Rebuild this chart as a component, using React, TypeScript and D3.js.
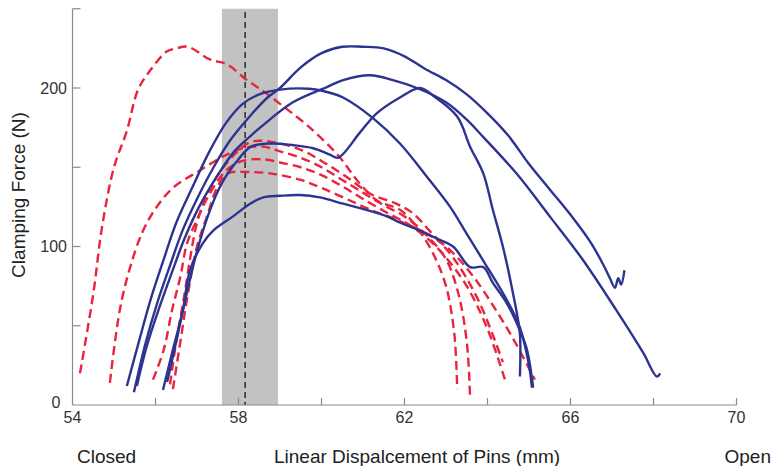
import React, { useEffect, useRef } from 'react';
import * as d3 from 'd3';

type Pt = [number, number];

// axis ticks
const xTicks = [54, 56, 58, 60, 62, 64, 66, 68, 70];
const xTickLabels = ['54', '', '58', '', '62', '', '66', '', '70'];
const yTicks = [0, 50, 100, 150, 200, 250];
const yTickLabels = ['0', '', '100', '', '200', ''];

// shaded zone and marker line (mm)
const bandRange: Pt = [57.6, 58.95];
const markerX = 58.16;

// red dashed curves (mm, N)
const red1: Pt[] = [
  [54.18, 20], [54.5, 70], [54.71, 112], [55.0, 150], [55.31, 173], [55.58, 199], [55.87, 211],
  [56.27, 223], [56.5, 225], [56.78, 226], [57.31, 218], [57.72, 215], [58.2, 205], [58.6, 198],
  [59.0, 190], [59.72, 175], [60.45, 156], [60.85, 142], [61.34, 129], [61.9, 123], [62.3, 112],
  [62.7, 95], [63.0, 75], [63.2, 45], [63.27, 10],
];
const red2: Pt[] = [
  [54.9, 14], [55.14, 60], [55.39, 87], [55.7, 110], [56.03, 125], [56.42, 137], [57.07, 148],
  [57.72, 158], [58.11, 162], [58.6, 163], [59.0, 160], [59.5, 156], [60.0, 150], [60.5, 142],
  [61.0, 134], [61.5, 126], [62.0, 119], [62.5, 108], [63.0, 92], [63.3, 70], [63.5, 40], [63.58, 5],
];
const red3: Pt[] = [
  [55.94, 16], [56.2, 35], [56.4, 60], [56.6, 81], [56.76, 102], [57.0, 117], [57.3, 133],
  [57.7, 148], [58.1, 154], [58.6, 155], [59.0, 153], [59.5, 150], [60.0, 145], [60.5, 138],
  [61.0, 130], [61.6, 121], [62.1, 114], [62.6, 104], [63.0, 93], [63.5, 75], [64.0, 48], [64.42, 16],
];
const red4: Pt[] = [
  [56.35, 13], [56.5, 40], [56.7, 70], [56.85, 95], [57.0, 115], [57.2, 130], [57.5, 145],
  [57.9, 158], [58.3, 166], [58.8, 166], [59.5, 161], [60.0, 154], [60.6, 144], [61.2, 133],
  [61.8, 127], [62.2, 121], [62.6, 110], [63.2, 92], [63.8, 65], [64.37, 27],
];
const red5: Pt[] = [
  [56.42, 10], [56.6, 40], [56.78, 70], [57.0, 100], [57.24, 119], [57.48, 137], [57.72, 146],
  [58.2, 147], [58.8, 146], [59.5, 142], [60.0, 137], [60.6, 130], [61.2, 123], [61.8, 117],
  [62.4, 110], [63.0, 100], [63.6, 83], [64.2, 60], [64.7, 38], [65.14, 16],
];

// blue solid curves (mm, N)
const blue1: Pt[] = [
  [55.48, 8], [55.75, 38], [56.05, 65], [56.35, 88], [56.65, 110], [57.0, 130], [57.4, 150],
  [57.8, 167], [58.3, 183], [58.7, 194], [59.0, 200], [59.5, 213], [60.0, 222], [60.5, 226],
  [61.0, 226], [61.5, 225], [62.0, 220], [62.5, 212], [63.0, 205], [63.5, 196], [64.0, 184],
  [64.5, 170], [65.0, 152], [65.5, 136], [66.0, 120], [66.5, 102], [66.8, 88], [66.95, 80],
  [67.07, 74], [67.15, 80], [67.22, 76], [67.3, 85],
];
const blue2: Pt[] = [
  [55.55, 12], [55.8, 38], [56.1, 62], [56.4, 84], [56.7, 105], [57.05, 125], [57.5, 145],
  [57.9, 160], [58.3, 170], [58.52, 175], [59.31, 191], [60.13, 200.6], [60.52, 205], [61.17, 208],
  [61.72, 205], [62.3, 200], [63.0, 191], [63.5, 180], [63.9, 169], [64.7, 146], [65.5, 119],
  [66.3, 91.5], [67.1, 60], [67.75, 33], [68.08, 18], [68.16, 20],
];
const blue3: Pt[] = [
  [56.28, 14.5], [56.5, 40], [56.75, 70], [57.0, 97], [57.3, 122], [57.6, 140], [58.0, 155],
  [58.3, 163], [58.8, 165], [59.3, 164], [59.8, 162], [60.2, 158], [60.4, 156], [60.93, 172],
  [61.33, 184], [61.89, 194], [62.37, 200], [62.7, 195], [63.27, 182], [63.58, 163], [63.9, 146],
  [64.13, 123], [64.37, 100], [64.61, 71], [64.78, 45], [64.78, 18],
];
const blue4: Pt[] = [
  [55.31, 12], [55.6, 40], [55.9, 68], [56.2, 92], [56.5, 115], [56.9, 138], [57.3, 160],
  [57.7, 178], [58.1, 190], [58.5, 196], [59.0, 199], [59.7, 199.5], [60.2, 197], [60.52, 194],
  [61.24, 181], [61.89, 165], [62.54, 144], [63.1, 125], [63.5, 108], [63.9, 91], [64.47, 66],
  [64.78, 49], [65.0, 25], [65.07, 11],
];
const blue5: Pt[] = [
  [56.18, 9.5], [56.42, 35], [56.66, 60], [56.83, 85], [57.14, 102], [57.39, 110], [57.87, 119],
  [58.28, 127], [58.6, 131], [59.0, 132], [59.48, 132.5], [59.96, 131], [60.52, 127], [61.1, 123],
  [61.58, 119], [61.9, 115], [62.37, 110], [62.78, 105], [63.17, 100], [63.58, 87], [63.9, 87],
  [64.13, 77], [64.47, 64], [64.78, 47], [64.95, 35], [65.1, 11],
];

const redSeries = [red1, red2, red3, red4, red5];
const blueSeries = [blue1, blue2, blue3, blue4, blue5];

const W = 773;
const H = 466;
const FONT = "'Liberation Sans', Arial, Helvetica, sans-serif";

function ForceChart() {
  const svgRef = useRef<SVGSVGElement>(null);

  useEffect(() => {
    const svg = d3.select(svgRef.current);
    svg.selectAll('*').remove();

    const x = d3.scaleLinear().domain([54, 70]).range([72.5, 736.5]);
    const y = d3.scaleLinear().domain([0, 250]).range([405, 8.75]);
    const axisColor = '#8a8a8a';

    // gray band
    svg
      .append('rect')
      .attr('x', x(bandRange[0]))
      .attr('y', y(250))
      .attr('width', x(bandRange[1]) - x(bandRange[0]))
      .attr('height', y(0) - y(250))
      .attr('fill', '#c2c2c2');

    // marker line
    svg
      .append('line')
      .attr('x1', x(markerX))
      .attr('x2', x(markerX))
      .attr('y1', y(248))
      .attr('y2', y(0))
      .attr('stroke', '#333')
      .attr('stroke-width', 1.6)
      .attr('stroke-dasharray', '6,4');

    const line = d3
      .line<Pt>()
      .x((d) => x(d[0]))
      .y((d) => y(d[1]))
      .curve(d3.curveCatmullRom.alpha(0.5));

    svg
      .selectAll('.red')
      .data(redSeries)
      .join('path')
      .attr('class', 'red')
      .attr('d', (d) => line(d))
      .attr('fill', 'none')
      .attr('stroke', '#e8243f')
      .attr('stroke-width', 2.4)
      .attr('stroke-dasharray', '9,5');

    svg
      .selectAll('.blue')
      .data(blueSeries)
      .join('path')
      .attr('class', 'blue')
      .attr('d', (d) => line(d))
      .attr('fill', 'none')
      .attr('stroke', '#2c3490')
      .attr('stroke-width', 2.4)
      .attr('stroke-linejoin', 'round');

    // axes
    const axes = svg.append('g').attr('stroke', axisColor).attr('stroke-width', 1.2);
    axes.append('line').attr('x1', x(54)).attr('x2', x(54)).attr('y1', y(250)).attr('y2', y(0));
    axes.append('line').attr('x1', x(54)).attr('x2', x(70)).attr('y1', y(0)).attr('y2', y(0));
    axes
      .selectAll('.ytick')
      .data(yTicks.filter((t) => t > 0))
      .join('line')
      .attr('x1', x(54))
      .attr('x2', x(54) + 8)
      .attr('y1', (d) => y(d))
      .attr('y2', (d) => y(d));
    axes
      .selectAll('.xtick')
      .data(xTicks.filter((t) => t > 54))
      .join('line')
      .attr('x1', (d) => x(d))
      .attr('x2', (d) => x(d))
      .attr('y1', y(0))
      .attr('y2', y(0) - 7);

    svg
      .selectAll('.ylab')
      .data(yTicks)
      .join('text')
      .attr('x', (d) => (d === 0 ? x(54) - 12 : x(54) - 5.5))
      .attr('y', (d) => (d === 0 ? y(d) - 3 : y(d)))
      .attr('text-anchor', 'end')
      .attr('dominant-baseline', 'central')
      .attr('font-family', FONT)
      .attr('font-size', 16)
      .attr('fill', '#333')
      .text((d, i) => yTickLabels[i]);

    svg
      .selectAll('.xlab')
      .data(xTicks)
      .join('text')
      .attr('x', (d) => x(d))
      .attr('y', 423)
      .attr('text-anchor', 'middle')
      .attr('font-family', FONT)
      .attr('font-size', 16)
      .attr('fill', '#333')
      .text((d, i) => xTickLabels[i]);

    // titles
    const title = (txt: string, tx: number, anchor: string) =>
      svg
        .append('text')
        .attr('x', tx)
        .attr('y', 463)
        .attr('text-anchor', anchor)
        .attr('font-family', FONT)
        .attr('font-size', 19)
        .attr('fill', '#222')
        .text(txt);
    title('Closed', 77, 'start');
    title('Linear Dispalcement of Pins (mm)', 274, 'start');
    title('Open', 771, 'end');

    svg
      .append('text')
      .attr('transform', 'translate(25,195) rotate(-90)')
      .attr('text-anchor', 'middle')
      .attr('font-family', FONT)
      .attr('font-size', 19)
      .attr('fill', '#222')
      .text('Clamping Force (N)');
  }, []);

  return <svg ref={svgRef} width={W} height={H} style={{ display: 'block', background: '#fff' }} />;
}

export default function App() {
  return (
    <div style={{ position: 'fixed', left: 0, top: 0, width: W, height: H, background: '#fff' }}>
      <ForceChart />
    </div>
  );
}
